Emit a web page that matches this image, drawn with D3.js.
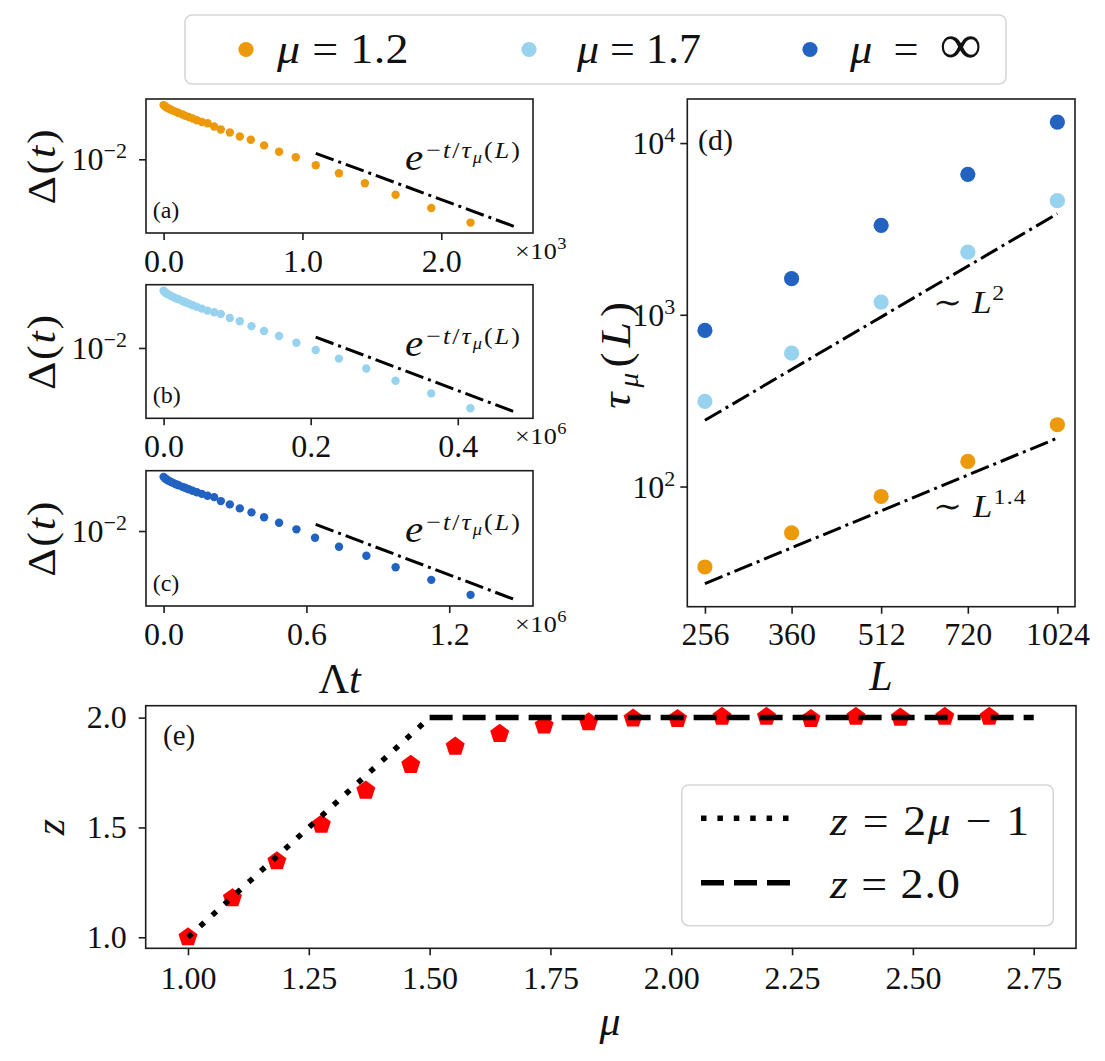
<!DOCTYPE html>
<html><head><meta charset="utf-8">
<script src="https://cdn.jsdelivr.net/npm/d3@7"></script>
<style>
body{margin:0;background:#fff}
svg{display:block}
text{font-family:"Liberation Serif","DejaVu Serif",serif;fill:#111}
</style>
</head><body>
<svg id="c" width="1105" height="1061"></svg>
<script>
// ================= DATA =================
const legendLabels = ["μ = 1.2", "μ = 1.7", "μ = ∞"];
const seriesColors = ["#EC9A0C", "#97D2EE", "#2262C0"];

// panel (a): mu = 1.2, time in units of 10^3
const tA = [0, 0.0108, 0.0216, 0.036, 0.054, 0.072, 0.090, 0.108, 0.137, 0.158, 0.181, 0.209, 0.240, 0.276, 0.317, 0.364, 0.412, 0.477, 0.549, 0.628, 0.724, 0.832, 0.952, 1.096, 1.263, 1.450, 1.671, 1.928, 2.211];
const dA = [0.0313, 0.0305, 0.02976, 0.02909, 0.02836, 0.02771, 0.02714, 0.02652, 0.02565, 0.02495, 0.02433, 0.02358, 0.02276, 0.02193, 0.02138, 0.01995, 0.01875, 0.01759, 0.01618, 0.01507, 0.0134, 0.01172, 0.01043, 0.00882, 0.00746, 0.00605, 0.00474, 0.00359, 0.00264];
const tFitA = [1.096, 2.534];
const dFitA = [0.01134, 0.00241];

// panel (b): mu = 1.7, time in units of 10^6
const tB = [0, 0.0020, 0.0041, 0.0068, 0.0102, 0.0136, 0.0170, 0.0204, 0.0258, 0.0299, 0.0342, 0.0394, 0.0452, 0.0520, 0.0597, 0.0687, 0.0778, 0.0900, 0.1036, 0.1195, 0.1366, 0.157, 0.1806, 0.2068, 0.2384, 0.2756, 0.3154, 0.3639, 0.4172];
const dB = [0.03339, 0.03243, 0.03156, 0.03078, 0.02995, 0.02921, 0.02855, 0.0279, 0.02692, 0.0262, 0.02549, 0.02465, 0.02378, 0.02291, 0.02197, 0.02125, 0.0205, 0.01884, 0.01758, 0.01585, 0.01428, 0.01286, 0.01117, 0.00959, 0.00799, 0.00649, 0.00501, 0.00384, 0.00281];
const tFitB = [0.2068, 0.4784];
const dFitB = [0.01259, 0.00258];

// panel (c): mu = inf, time in units of 10^6
const tC = [0, 0.0063, 0.0126, 0.0210, 0.0315, 0.0420, 0.0525, 0.0629, 0.0797, 0.0923, 0.1057, 0.1217, 0.1397, 0.1607, 0.1846, 0.2123, 0.2405, 0.2782, 0.3202, 0.3693, 0.4222, 0.4851, 0.5581, 0.6362, 0.7369, 0.8519, 0.9748, 1.1246, 1.2896];
const dC = [0.03116, 0.03026, 0.02945, 0.02872, 0.02801, 0.02731, 0.02669, 0.02614, 0.02527, 0.02465, 0.02404, 0.0233, 0.02257, 0.02179, 0.02098, 0.02037, 0.01874, 0.01749, 0.01608, 0.01479, 0.01333, 0.0119, 0.01036, 0.00869, 0.0072, 0.00596, 0.00467, 0.00359, 0.00262];
const tFitC = [0.639, 1.478];
const dFitC = [0.0115, 0.00236];

const xTicksA = [0, 1, 2];
const xTicksB = [0, 0.2, 0.4];
const xTicksC = [0, 0.6, 1.2];
const offsetExps = ["3", "6", "6"];
const panelTags = ["(a)", "(b)", "(c)"];
const yTicksDelta = [0.01];

// panel (d)
const Ls = [256, 360, 512, 720, 1024];
const tau12 = [34.0, 53.8, 87.5, 140, 229];
const tau17 = [313, 598, 1186, 2318, 4621];
const tauInf = [811, 1622, 3318, 6574, 13250];
const fitLx = [256, 1024];
const fitL2 = [243, 3880];
const fitL14 = [27.2, 191.4];
const yTicksD = [100, 1000, 10000];

// panel (e)
const muVals = [1.000, 1.092, 1.184, 1.276, 1.368, 1.461, 1.553, 1.645, 1.737, 1.829, 1.921, 2.013, 2.105, 2.197, 2.289, 2.382, 2.474, 2.566, 2.658];
const zVals = [1.0, 1.178, 1.346, 1.513, 1.668, 1.785, 1.868, 1.926, 1.964, 1.979, 1.996, 1.994, 2.004, 2.004, 1.994, 2.004, 2.0, 2.004, 2.004];
const muLin1 = [1.0, 1.5], zLin1 = [1.0, 2.0];
const muLin2 = [1.5, 2.75], zLin2 = [2.0, 2.0];
const xTicksE = [1.00, 1.25, 1.50, 1.75, 2.00, 2.25, 2.50, 2.75];
const yTicksE = [1.0, 1.5, 2.0];

// ================= DRAWING =================
const svg = d3.select("#c");
const INK = "#1c1c1c";
const FONT = '"Liberation Serif","DejaVu Serif",serif';

function padExtent(vals, log) {
  let a = d3.min(vals), b = d3.max(vals);
  if (log) { a = Math.log10(a); b = Math.log10(b); }
  const p = (b - a) * 0.05; a -= p; b += p;
  return log ? [Math.pow(10, a), Math.pow(10, b)] : [a, b];
}
function rich(parent, x, y, parts, anchor) {
  const t = parent.append("text").attr("x", x).attr("y", y)
    .attr("text-anchor", anchor || "start").style("font-family", FONT);
  parts.forEach(p => {
    const ts = t.append("tspan").text(p.t).style("font-size", p.s + "px");
    if (p.i) ts.style("font-style", "italic");
    if (p.dy) ts.attr("dy", p.dy);
    if (p.dx) ts.attr("dx", p.dx);
  });
  return t;
}
// match a target width: mild horizontal scaling plus letter spacing for the rest
function fitW(t, target, ax) {
  const w = t.node().getBBox().width;
  if (!w) return;
  const r = target / w;
  if (r <= 1) {
    t.attr("transform", `translate(${ax},0) scale(${r},1) translate(${-ax},0)`);
    return;
  }
  const sx = Math.min(r, 1.1);
  const rest = target / sx - w;
  if (rest > 0.5) {
    const n = t.node().getNumberOfChars();
    t.style("letter-spacing", (rest / Math.max(1, n - 1)) + "px");
  }
  const w2 = t.node().getBBox().width;
  const s = target / w2;
  t.attr("transform", `translate(${ax},0) scale(${s},1) translate(${-ax},0)`);
}
function frame(b) {
  svg.append("rect").attr("x", b.x0).attr("y", b.y0).attr("width", b.x1 - b.x0)
    .attr("height", b.y1 - b.y0).attr("fill", "none").attr("stroke", INK).attr("stroke-width", 1.6);
}
function styleAxis(g) {
  g.select(".domain").remove();
  g.selectAll(".tick line").attr("stroke", INK).attr("stroke-width", 1.6);
  g.selectAll(".tick text").style("font-family", FONT).style("font-size", "32px").attr("fill", "#111");
}
function dashLine(g, xs, ys, x, y, w, dash) {
  g.append("path").datum(xs.map((v, i) => [v, ys[i]]))
    .attr("d", d3.line().x(p => x(p[0])).y(p => y(p[1])))
    .attr("fill", "none").attr("stroke", "#000").attr("stroke-width", w)
    .attr("stroke-dasharray", dash);
}

// ---------- panels (a)-(c) ----------
const boxesABC = [
  {x0: 146, x1: 533, y0: 99, y1: 233},
  {x0: 146, x1: 533, y0: 284.7, y1: 418.3},
  {x0: 146, x1: 533, y0: 470.7, y1: 606}
];
const decayData = [
  [tA, dA, tFitA, dFitA, xTicksA],
  [tB, dB, tFitB, dFitB, xTicksB],
  [tC, dC, tFitC, dFitC, xTicksC]
];
decayData.forEach((dd, k) => {
  const [t, d, tf, df, xt] = dd;
  const b = boxesABC[k];
  const x = d3.scaleLinear().domain(padExtent(t.concat(tf))).range([b.x0, b.x1]);
  const y = d3.scaleLog().domain(padExtent(d.concat(df), true)).range([b.y1, b.y0]);
  const g = svg.append("g");
  g.selectAll("circle").data(t.map((v, i) => [v, d[i]])).join("circle")
    .attr("cx", p => x(p[0])).attr("cy", p => y(p[1])).attr("r", 4.2)
    .attr("fill", seriesColors[k]);
  dashLine(g, tf, df, x, y, 3, "19,5,3,5");
  frame(b);
  const ax = svg.append("g").attr("transform", `translate(0,${b.y1})`)
    .call(d3.axisBottom(x).tickValues(xt).tickSize(7).tickPadding(9).tickFormat(d3.format(".1f")));
  styleAxis(ax);
  const ay = svg.append("g").attr("transform", `translate(${b.x0},0)`)
    .call(d3.axisLeft(y).tickValues(yTicksDelta).tickSize(7).tickFormat(""));
  styleAxis(ay);
  yTicksDelta.forEach(v => {
    const e = Math.round(Math.log10(v));
    rich(svg, b.x0 - 19, y(v) + 11,
      [{t: "10", s: 32}, {t: (e < 0 ? "−" : "") + Math.abs(e), s: 22, dy: -12}], "end");
  });
  // offset text
  const off = rich(svg, 515, b.y1 + 26, [{t: "×10", s: 24}, {t: offsetExps[k], s: 17, dy: -10}]);
  fitW(off, 52, 515);
  // annotation
  const ann = rich(svg, 405, b.y0 + 71, [
    {t: "e", s: 38, i: 1}, {t: "−", s: 24, dy: -12, dx: 1}, {t: "t", s: 24, i: 1}, {t: "/", s: 24},
    {t: "τ", s: 24, i: 1}, {t: "μ", s: 17, i: 1, dy: 5}, {t: "(", s: 24, dy: -5}, {t: "L", s: 24, i: 1}, {t: ")", s: 24}
  ]);
  fitW(ann, 117, 405);
  rich(svg, 152.7, b.y1 - 15, [{t: panelTags[k], s: 24}]);
  // y label
  const gl = svg.append("g").attr("transform", `translate(55,${(b.y0 + b.y1) / 2}) rotate(-90)`);
  const yl = rich(gl, 0, 0, [{t: "Δ(", s: 41}, {t: "t", s: 41, i: 1}, {t: ")", s: 41}], "middle");
  fitW(yl, 77, 0);
});
// x label Λt
rich(svg, 339.5, 693, [{t: "Λ", s: 42}, {t: "t", s: 42, i: 1}], "middle");

// ---------- panel (d) ----------
{
  const b = {x0: 687.3, x1: 1075, y0: 99, y1: 606.7};
  const allY = tau12.concat(tau17, tauInf, fitL2, fitL14);
  const x = d3.scaleLog().domain(padExtent(Ls, true)).range([b.x0, b.x1]);
  const y = d3.scaleLog().domain(padExtent(allY, true)).range([b.y1, b.y0]);
  const g = svg.append("g");
  [tau12, tau17, tauInf].forEach((s, k) => {
    g.append("g").selectAll("circle").data(Ls.map((v, i) => [v, s[i]])).join("circle")
      .attr("cx", p => x(p[0])).attr("cy", p => y(p[1])).attr("r", 7.6)
      .attr("fill", seriesColors[k]);
  });
  dashLine(g, fitLx, fitL2, x, y, 3, "19,5,3,5");
  dashLine(g, fitLx, fitL14, x, y, 3, "19,5,3,5");
  frame(b);
  const ax = svg.append("g").attr("transform", `translate(0,${b.y1})`)
    .call(d3.axisBottom(x).tickValues(Ls).tickSize(7).tickPadding(9).tickFormat(d3.format("d")));
  styleAxis(ax);
  const ay = svg.append("g").attr("transform", `translate(${b.x0},0)`)
    .call(d3.axisLeft(y).tickValues(yTicksD).tickSize(7).tickFormat(""));
  styleAxis(ay);
  yTicksD.forEach(v => {
    const e = Math.round(Math.log10(v));
    rich(svg, b.x0 - 12, y(v) + 11, [{t: "10", s: 32}, {t: String(e), s: 22, dy: -12}], "end");
  });
  rich(svg, 698, 150, [{t: "(d)", s: 30}]);
  const a1 = rich(svg, 933, 313, [{t: "∼ ", s: 32}, {t: "L", s: 32, i: 1}, {t: "2", s: 22, dy: -13}]);
  fitW(a1, 72, 933);
  const a2 = rich(svg, 933, 516.7, [{t: "∼ ", s: 32}, {t: "L", s: 32, i: 1}, {t: "1.4", s: 22, dy: -13}]);
  fitW(a2, 94, 933);
  rich(svg, 881, 690, [{t: "L", s: 42, i: 1}], "middle");
  const gl = svg.append("g").attr("transform", `translate(630,${(b.y0 + b.y1) / 2}) rotate(-90)`);
  const yl = rich(gl, 0, 0, [{t: "τ", s: 43, i: 1}, {t: "μ", s: 28, i: 1, dy: 8}, {t: "(", s: 43, dy: -8}, {t: "L", s: 43, i: 1}, {t: ")", s: 43}], "middle");
  fitW(yl, 112, 0);
}

// ---------- panel (e) ----------
{
  const b = {x0: 145.7, x1: 1076, y0: 705.7, y1: 948.3};
  const x = d3.scaleLinear().domain(padExtent(muVals.concat(muLin2))).range([b.x0, b.x1]);
  const y = d3.scaleLinear().domain(padExtent(zVals.concat(zLin1))).range([b.y1, b.y0]);
  const g = svg.append("g");
  const R = 10;
  const pent = d3.range(5).map(k => {
    const a = -Math.PI / 2 + k * 2 * Math.PI / 5;
    return [R * Math.cos(a), R * Math.sin(a)];
  });
  const pentPath = "M" + pent.map(p => p.join(",")).join("L") + "Z";
  g.selectAll("path.pt").data(muVals.map((v, i) => [v, zVals[i]])).join("path")
    .attr("class", "pt").attr("d", pentPath)
    .attr("transform", p => `translate(${x(p[0])},${y(p[1])})`).attr("fill", "#ff0000");
  dashLine(g, muLin1, zLin1, x, y, 5.5, "5.5,10.9");
  dashLine(g, muLin2, zLin2, x, y, 5.5, "23,10");
  frame(b);
  const ax = svg.append("g").attr("transform", `translate(0,${b.y1})`)
    .call(d3.axisBottom(x).tickValues(xTicksE).tickSize(7).tickPadding(11).tickFormat(d3.format(".2f")));
  styleAxis(ax);
  const ay = svg.append("g").attr("transform", `translate(${b.x0},0)`)
    .call(d3.axisLeft(y).tickValues(yTicksE).tickSize(7).tickPadding(12).tickFormat(d3.format(".1f")));
  styleAxis(ay);
  rich(svg, 163, 745, [{t: "(e)", s: 29}]);
  rich(svg, 610, 1035, [{t: "μ", s: 42, i: 1}], "middle");
  const gl = svg.append("g").attr("transform", `translate(64,${(b.y0 + b.y1) / 2}) rotate(-90)`);
  rich(gl, 0, 0, [{t: "z", s: 42, i: 1}], "middle");

  // legend (e)
  const lg = svg.append("g");
  lg.append("rect").attr("x", 681.7).attr("y", 785).attr("width", 371.6).attr("height", 140.7)
    .attr("rx", 7).attr("fill", "#fff").attr("stroke", "#d6d6d6").attr("stroke-width", 1.6);
  lg.append("line").attr("x1", 701).attr("x2", 790).attr("y1", 818.3).attr("y2", 818.3)
    .attr("stroke", "#000").attr("stroke-width", 5.5).attr("stroke-dasharray", "5.5,10.9");
  lg.append("line").attr("x1", 701).attr("x2", 790).attr("y1", 882.7).attr("y2", 882.7)
    .attr("stroke", "#000").attr("stroke-width", 5.5).attr("stroke-dasharray", "23,10");
  const l1 = rich(lg, 830, 835, [{t: "z", s: 42, i: 1}, {t: " = 2", s: 42}, {t: "μ", s: 42, i: 1}, {t: " − 1", s: 42}]);
  fitW(l1, 202, 830);
  const l2 = rich(lg, 830, 898, [{t: "z", s: 42, i: 1}, {t: " = 2.0", s: 42}]);
  fitW(l2, 132, 830);
}

// ---------- top legend ----------
{
  const lg = svg.append("g");
  lg.append("rect").attr("x", 185).attr("y", 15).attr("width", 821).attr("height", 69)
    .attr("rx", 7).attr("fill", "#fff").attr("stroke", "#d6d6d6").attr("stroke-width", 1.6);
  const dotX = [246, 529, 810], txtX = [277, 577, 850], txtW = [133, 125, 138];
  legendLabels.forEach((lab, k) => {
    lg.append("circle").attr("cx", dotX[k]).attr("cy", 49.5).attr("r", 7.6).attr("fill", seriesColors[k]);
    const parts = lab.split(" = ");
    const big = parts[1] === "∞";
    const t = rich(lg, txtX[k], 63, [{t: parts[0], s: 42, i: 1}, {t: " = ", s: 42},
      {t: parts[1], s: big ? 56 : 42}]);
    fitW(t, txtW[k], txtX[k]);
  });
}
</script>
</body></html>
